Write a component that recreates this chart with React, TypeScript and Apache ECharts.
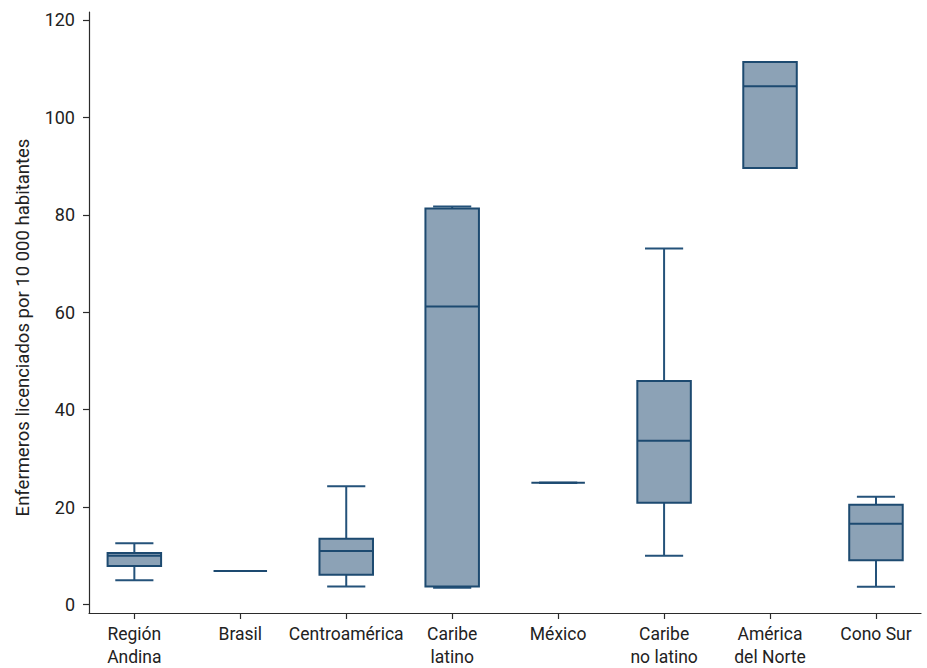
import React, { useEffect, useRef } from "react";
import * as echarts from "echarts";

const categories = [
  "Región\nAndina",
  "Brasil",
  "Centroamérica",
  "Caribe\nlatino",
  "México",
  "Caribe\nno latino",
  "América\ndel Norte",
  "Cono Sur",
];
// [min, Q1, median, Q3, max]
const lowWhisker = [5.0, 6.9, 3.7, 3.45, 25.0, 10.0, 89.6, 3.65];
const q1Values = [7.9, 6.9, 6.1, 3.7, 25.0, 20.9, 89.6, 9.1];
const medianValues = [10.0, 6.9, 11.0, 61.2, 25.0, 33.6, 106.4, 16.6];
const q3Values = [10.6, 6.9, 13.5, 81.3, 25.0, 45.9, 111.4, 20.5];
const highWhisker = [12.6, 6.9, 24.3, 81.7, 25.0, 73.1, 111.4, 22.1];
const yTicks = [0, 20, 40, 60, 80, 100, 120];
const xTicks = [0, 1, 2, 3, 4, 5, 6, 7];

const FILL = "#8ca2b6";
const STROKE = "#1d4a70";
const WHISKER = "#24527a";
const FONT = "Roboto";

export default function App() {
  const ref = useRef<HTMLDivElement>(null);
  useEffect(() => {
    if (!ref.current) return;
    const chart = echarts.init(ref.current, undefined, { renderer: "svg" });
    const data = categories.map((_, i) => [
      i,
      lowWhisker[i],
      q1Values[i],
      medianValues[i],
      q3Values[i],
      highWhisker[i],
    ]);
    chart.setOption({
      animation: false,
      grid: { left: 89, right: 6, top: 12, bottom: 54, containLabel: false },
      xAxis: {
        type: "value",
        min: -0.428,
        max: 7.425,
        splitLine: { show: false },
        axisLine: { show: true, onZero: false, lineStyle: { color: "#2b2b2b", width: 1.2 } },
        axisTick: {
          show: true,
          length: 6,
          customValues: xTicks,
          lineStyle: { color: "#2b2b2b", width: 1.2 },
        },
        axisLabel: {
          customValues: xTicks,
          formatter: (v: number) => categories[Math.round(v)] ?? "",
          color: "#222",
          fontFamily: FONT,
          fontSize: 17.5,
          lineHeight: 23,
          margin: 9,
        },
      },
      yAxis: {
        type: "value",
        min: -1.742,
        max: 121.64,
        name: "Enfermeros licenciados por 10 000 habitantes",
        nameLocation: "middle",
        nameGap: 57,
        nameTextStyle: {
          color: "#222",
          fontFamily: FONT,
          fontSize: 18.5,
          padding: [0, 30, 0, 0],
        },
        splitLine: { show: false },
        axisLine: { show: true, onZero: false, lineStyle: { color: "#2b2b2b", width: 1.2 } },
        axisTick: {
          show: true,
          length: 6,
          customValues: yTicks,
          lineStyle: { color: "#2b2b2b", width: 1.2 },
        },
        axisLabel: {
          customValues: yTicks,
          color: "#222",
          fontFamily: FONT,
          fontSize: 18,
          margin: 14,
        },
      },
      series: [
        {
          type: "custom",
          data,
          encode: { x: 0, y: [1, 2, 3, 4, 5] },
          renderItem: (params: any, api: any) => {
            const x = api.value(0);
            const lo = api.coord([x, api.value(1)]);
            const q1 = api.coord([x, api.value(2)]);
            const md = api.coord([x, api.value(3)]);
            const q3 = api.coord([x, api.value(4)]);
            const hi = api.coord([x, api.value(5)]);
            const band = api.size([1, 0])[0];
            const bw = band * 0.505;
            const ww = band * 0.36;
            const cx = md[0];
            const children: any[] = [];
            const wStyle = { stroke: WHISKER, lineWidth: 2 };
            children.push({
              type: "line",
              shape: { x1: cx, y1: q3[1], x2: cx, y2: hi[1] },
              style: wStyle,
            });
            children.push({
              type: "line",
              shape: { x1: cx - ww / 2, y1: hi[1], x2: cx + ww / 2, y2: hi[1] },
              style: wStyle,
            });
            children.push({
              type: "line",
              shape: { x1: cx, y1: q1[1], x2: cx, y2: lo[1] },
              style: wStyle,
            });
            children.push({
              type: "line",
              shape: { x1: cx - ww / 2, y1: lo[1], x2: cx + ww / 2, y2: lo[1] },
              style: wStyle,
            });
            if (Math.abs(q1[1] - q3[1]) > 0.5) {
              children.push({
                type: "rect",
                shape: { x: cx - bw / 2, y: q3[1], width: bw, height: q1[1] - q3[1] },
                style: { fill: FILL, stroke: STROKE, lineWidth: 2 },
              });
            }
            children.push({
              type: "line",
              shape: { x1: cx - bw / 2, y1: md[1], x2: cx + bw / 2, y2: md[1] },
              style: { stroke: STROKE, lineWidth: 2 },
            });
            return { type: "group", children };
          },
        },
      ],
    });
    return () => chart.dispose();
  }, []);
  return (
    <div
      ref={ref}
      style={{ position: "fixed", left: 0, top: 0, width: 927, height: 668, background: "#fff" }}
    />
  );
}
